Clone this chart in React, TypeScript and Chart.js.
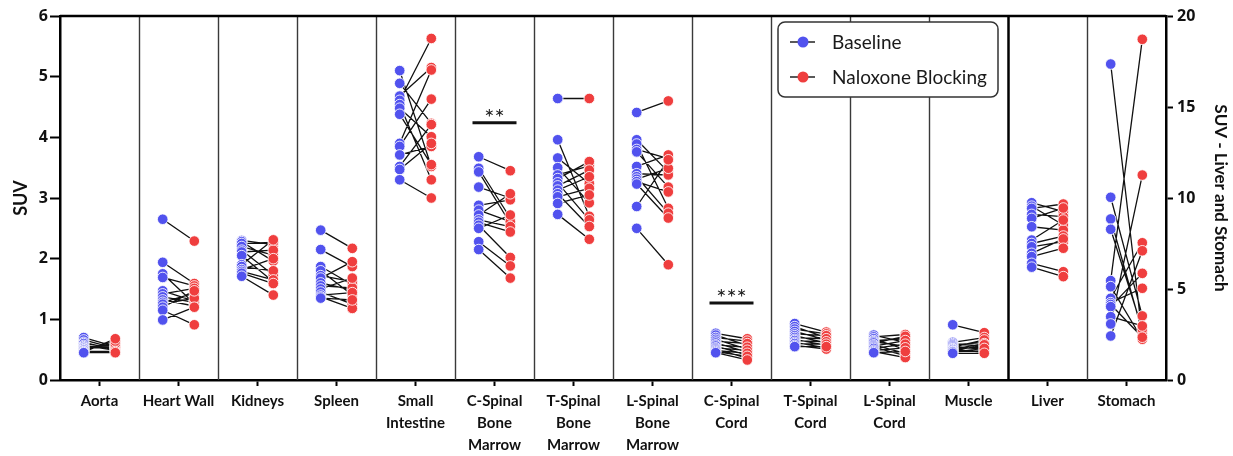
import React, { useEffect, useRef } from "react";
import { Chart, registerables } from "chart.js";
Chart.register(...registerables);

// ---------- data ----------
const categories: string[][] = [
  ["Aorta"], ["Heart Wall"], ["Kidneys"], ["Spleen"], ["Small", "Intestine"],
  ["C-Spinal", "Bone", "Marrow"], ["T-Spinal", "Bone", "Marrow"], ["L-Spinal", "Bone", "Marrow"],
  ["C-Spinal", "Cord"], ["T-Spinal", "Cord"], ["L-Spinal", "Cord"], ["Muscle"], ["Liver"], ["Stomach"],
];
const rightAxisCategories = ["Liver", "Stomach"];

const yTicks = [0, 1, 2, 3, 4, 5, 6];
const y2Ticks = [0, 5, 10, 15, 20];

const aortaBaseline = [0.70, 0.66, 0.62, 0.60, 0.57, 0.55, 0.53, 0.52, 0.50, 0.49, 0.47, 0.46, 0.45];
const aortaNaloxone = [0.55, 0.52, 0.50, 0.53, 0.49, 0.56, 0.54, 0.58, 0.60, 0.64, 0.47, 0.68, 0.45];
const heartWallBaseline = [2.65, 1.94, 1.75, 1.69, 1.47, 1.42, 1.37, 1.32, 1.28, 1.25, 1.20, 1.15, 0.99];
const heartWallNaloxone = [2.29, 1.59, 1.26, 1.55, 1.30, 1.51, 1.28, 1.22, 1.43, 1.35, 1.47, 0.91, 1.20];
const kidneysBaseline = [2.30, 2.28, 2.25, 2.20, 2.14, 2.11, 2.05, 1.90, 1.87, 1.82, 1.79, 1.76, 1.71];
const kidneysNaloxone = [2.23, 1.96, 2.27, 2.06, 1.73, 2.14, 1.62, 2.31, 1.80, 2.00, 1.65, 1.59, 1.40];
const spleenBaseline = [2.47, 2.15, 1.87, 1.80, 1.72, 1.68, 1.60, 1.55, 1.50, 1.45, 1.40, 1.37, 1.35];
const spleenNaloxone = [2.17, 1.87, 1.57, 1.40, 1.62, 1.95, 1.48, 1.52, 1.68, 1.25, 1.44, 1.18, 1.32];
const smallIntestineBaseline = [5.10, 4.89, 4.68, 4.61, 4.54, 4.48, 4.38, 3.90, 3.85, 3.71, 3.52, 3.47, 3.30];
const smallIntestineNaloxone = [3.52, 4.23, 5.15, 5.63, 3.30, 4.01, 3.55, 5.11, 4.63, 3.85, 4.21, 3.90, 3.00];
const cSpinalBoneBaseline = [3.68, 3.49, 3.43, 3.18, 2.88, 2.80, 2.72, 2.64, 2.60, 2.55, 2.50, 2.28, 2.15];
const cSpinalBoneNaloxone = [3.45, 2.67, 2.58, 3.00, 2.97, 2.61, 3.07, 2.53, 2.44, 2.02, 2.72, 1.88, 1.68];
const tSpinalBoneBaseline = [4.64, 3.96, 3.66, 3.50, 3.38, 3.32, 3.25, 3.20, 3.13, 3.07, 3.02, 2.91, 2.73];
const tSpinalBoneNaloxone = [4.64, 2.70, 3.24, 2.92, 3.53, 3.60, 2.64, 3.46, 3.35, 2.53, 3.16, 3.05, 2.32];
const lSpinalBoneBaseline = [4.41, 3.96, 3.89, 3.80, 3.76, 3.52, 3.40, 3.35, 3.31, 3.27, 3.23, 2.86, 2.50];
const lSpinalBoneNaloxone = [4.60, 3.43, 2.83, 3.65, 3.18, 3.71, 3.38, 2.75, 3.49, 3.10, 2.67, 3.63, 1.90];
const cSpinalCordBaseline = [0.77, 0.74, 0.70, 0.67, 0.64, 0.61, 0.58, 0.56, 0.53, 0.51, 0.49, 0.47, 0.45];
const cSpinalCordNaloxone = [0.68, 0.57, 0.64, 0.51, 0.60, 0.46, 0.54, 0.41, 0.49, 0.36, 0.44, 0.39, 0.33];
const tSpinalCordBaseline = [0.93, 0.88, 0.84, 0.80, 0.76, 0.73, 0.70, 0.67, 0.65, 0.62, 0.60, 0.57, 0.55];
const tSpinalCordNaloxone = [0.79, 0.70, 0.76, 0.66, 0.73, 0.61, 0.68, 0.57, 0.63, 0.53, 0.59, 0.51, 0.55];
const lSpinalCordBaseline = [0.74, 0.71, 0.68, 0.65, 0.63, 0.61, 0.58, 0.56, 0.54, 0.52, 0.49, 0.47, 0.45];
const lSpinalCordNaloxone = [0.62, 0.75, 0.50, 0.68, 0.56, 0.72, 0.44, 0.65, 0.40, 0.59, 0.53, 0.37, 0.47];
const muscleBaseline = [0.91, 0.62, 0.60, 0.58, 0.56, 0.54, 0.52, 0.51, 0.50, 0.48, 0.47, 0.46, 0.44];
const muscleNaloxone = [0.78, 0.70, 0.56, 0.62, 0.50, 0.66, 0.54, 0.60, 0.46, 0.58, 0.48, 0.52, 0.44];
const liverBaseline = [9.74, 9.55, 9.43, 9.10, 8.88, 8.42, 7.69, 7.50, 7.32, 6.96, 6.78, 6.41, 6.20];
const liverNaloxone = [9.25, 8.52, 9.67, 8.98, 9.45, 8.24, 8.79, 7.91, 7.60, 7.75, 7.24, 5.95, 5.68];
const stomachBaseline = [17.36, 10.04, 8.85, 8.28, 5.46, 5.13, 4.49, 4.25, 4.15, 4.03, 3.48, 3.08, 2.42];
const stomachNaloxone = [2.42, 3.52, 2.65, 2.80, 18.72, 2.24, 7.54, 5.04, 2.35, 5.86, 2.97, 11.26, 7.10];

const baselineSets = [
  aortaBaseline, heartWallBaseline, kidneysBaseline, spleenBaseline, smallIntestineBaseline,
  cSpinalBoneBaseline, tSpinalBoneBaseline, lSpinalBoneBaseline, cSpinalCordBaseline,
  tSpinalCordBaseline, lSpinalCordBaseline, muscleBaseline, liverBaseline, stomachBaseline,
];
const naloxoneSets = [
  aortaNaloxone, heartWallNaloxone, kidneysNaloxone, spleenNaloxone, smallIntestineNaloxone,
  cSpinalBoneNaloxone, tSpinalBoneNaloxone, lSpinalBoneNaloxone, cSpinalCordNaloxone,
  tSpinalCordNaloxone, lSpinalCordNaloxone, muscleNaloxone, liverNaloxone, stomachNaloxone,
];

const sigCategories = [5, 8];
const sigLevels = [4.24, 1.27];
const sigLabels = ["**", "***"];

const seriesNames = ["Baseline", "Naloxone Blocking"];
const BLUE = "#5152EE";
const RED = "#EF3E3E";
const seriesColors = [BLUE, RED];
const FONT = "Lato, 'Open Sans', sans-serif";
const NUM_FONT = "'Open Sans', Lato, sans-serif";

// ---------- build datasets ----------
const OFF = 0.2;
function buildSets(right: boolean) {
  const line: any[] = [];
  const blue: any[] = [];
  const red: any[] = [];
  categories.forEach((lab, i) => {
    const isRight = rightAxisCategories.includes(lab[0]);
    if (isRight !== right) return;
    const b = baselineSets[i];
    const r = naloxoneSets[i];
    b.forEach((bv, j) => {
      const rv = r[j];
      line.push({ x: i + 0.5 - OFF, y: bv }, { x: i + 0.5 + OFF, y: rv }, { x: i + 0.5 + OFF, y: null });
      blue.push({ x: i + 0.5 - OFF, y: bv });
      red.push({ x: i + 0.5 + OFF, y: rv });
    });
  });
  return { line, blue, red };
}

const overlayPlugin = {
  id: "overlay",
  beforeDatasetsDraw(chart: any) {
    const { ctx, chartArea: a, scales } = chart;
    const xs = scales.x;
    const firstRight = categories.findIndex((c) => rightAxisCategories.includes(c[0]));
    ctx.save();
    for (let k = 1; k < categories.length; k++) {
      const px = Math.round(xs.getPixelForValue(k)) + 0.5;
      ctx.beginPath();
      ctx.lineWidth = k === firstRight ? 2.5 : 1.4;
      ctx.strokeStyle = k === firstRight ? "#000" : "#3a3a3a";
      ctx.moveTo(px, a.top);
      ctx.lineTo(px, a.bottom);
      ctx.stroke();
    }
    ctx.beginPath();
    ctx.lineWidth = 2.5;
    ctx.strokeStyle = "#000";
    ctx.moveTo(a.left, a.top);
    ctx.lineTo(a.right, a.top);
    ctx.stroke();
    ctx.restore();
  },
  afterDraw(chart: any) {
    const { ctx, scales } = chart;
    ctx.save();
    // significance marks
    sigCategories.forEach((ci, k) => {
      const cx = scales.x.getPixelForValue(ci + 0.5);
      const py = scales.y.getPixelForValue(sigLevels[k]);
      ctx.beginPath();
      ctx.lineWidth = 3;
      ctx.strokeStyle = "#111";
      ctx.moveTo(cx - 22, py);
      ctx.lineTo(cx + 22, py);
      ctx.stroke();
      ctx.fillStyle = "#222";
      ctx.font = `24px ${FONT}`;
      ctx.textAlign = "center";
      ctx.textBaseline = "alphabetic";
      ctx.fillText(sigLabels[k], cx, py + 3);
    });
    // legend box
    const bx = 778, by = 22, bw = 220, bh = 75, rr = 7;
    ctx.beginPath();
    ctx.moveTo(bx + rr, by);
    ctx.arcTo(bx + bw, by, bx + bw, by + bh, rr);
    ctx.arcTo(bx + bw, by + bh, bx, by + bh, rr);
    ctx.arcTo(bx, by + bh, bx, by, rr);
    ctx.arcTo(bx, by, bx + bw, by, rr);
    ctx.closePath();
    ctx.fillStyle = "#fff";
    ctx.fill();
    ctx.lineWidth = 1.5;
    ctx.strokeStyle = "#333";
    ctx.stroke();
    seriesNames.forEach((name, k) => {
      const cy = 42 + k * 35;
      ctx.beginPath();
      ctx.lineWidth = 1.5;
      ctx.strokeStyle = "#222";
      ctx.moveTo(790, cy);
      ctx.lineTo(815, cy);
      ctx.stroke();
      ctx.beginPath();
      ctx.arc(803, cy, 5.5, 0, Math.PI * 2);
      ctx.fillStyle = seriesColors[k];
      ctx.fill();
      ctx.fillStyle = "#1a1a1a";
      ctx.font = `19px ${FONT}`;
      ctx.textAlign = "left";
      ctx.textBaseline = "middle";
      ctx.fillText(name, 832, cy + 1);
    });
    ctx.restore();
  },
};

export default function App() {
  const ref = useRef<HTMLCanvasElement | null>(null);
  useEffect(() => {
    if (!ref.current) return;
    const left = buildSets(false);
    const right = buildSets(true);
    const pointStyle = (color: string) => ({
      pointRadius: 5.3,
      pointBackgroundColor: color,
      pointBorderColor: "rgba(255,255,255,0.85)",
      pointBorderWidth: 1,
      showLine: false,
    });
    const lineStyle = {
      type: "line" as const,
      showLine: true,
      spanGaps: false,
      borderColor: "#111",
      borderWidth: 1.3,
      pointRadius: 0,
      fill: false,
      order: 2,
    };
    const chart = new Chart(ref.current, {
      type: "scatter",
      data: {
        datasets: [
          { label: "lines-left", data: left.line, yAxisID: "y", ...lineStyle } as any,
          { label: "lines-right", data: right.line, yAxisID: "y2", ...lineStyle } as any,
          { label: seriesNames[0], data: left.blue, yAxisID: "y", order: 1, ...pointStyle(BLUE) },
          { label: seriesNames[1], data: left.red, yAxisID: "y", order: 1, ...pointStyle(RED) },
          { label: seriesNames[0] + " (right)", data: right.blue, yAxisID: "y2", order: 1, ...pointStyle(BLUE) },
          { label: seriesNames[1] + " (right)", data: right.red, yAxisID: "y2", order: 1, ...pointStyle(RED) },
        ],
      },
      options: {
        animation: false,
        responsive: false,
        maintainAspectRatio: false,
        layout: { padding: { top: 16, left: 0, right: 0, bottom: 0 } },
        plugins: { legend: { display: false }, tooltip: { enabled: false } },
        scales: {
          x: {
            type: "linear",
            min: 0,
            max: categories.length,
            afterBuildTicks: (s: any) => {
              s.ticks = categories.map((_, i) => ({ value: i + 0.5 }));
            },
            afterFit: (s: any) => {
              s.height = 76;
            },
            ticks: {
              autoSkip: false,
              maxRotation: 0,
              padding: 4,
              color: "#111",
              font: { family: FONT, size: 15, weight: "bold", lineHeight: 1.47 },
              callback: (_v: any, idx: number) => categories[idx],
            },
            grid: { drawOnChartArea: false, tickLength: 6, tickWidth: 2, tickColor: "#000" },
            border: { display: true, color: "#000", width: 2.5 },
          },
          y: {
            position: "left",
            min: 0,
            max: 6,
            afterBuildTicks: (s: any) => {
              s.ticks = yTicks.map((v) => ({ value: v }));
            },
            afterFit: (s: any) => {
              s.width = 60;
            },
            ticks: { padding: 2, color: "#111", font: { family: NUM_FONT, size: 16, weight: "bold" } },
            grid: { drawOnChartArea: false, tickLength: 10, tickWidth: 2, tickColor: "#000" },
            border: { display: true, color: "#000", width: 2.5 },
            title: {
              display: true,
              text: "SUV",
              color: "#111",
              padding: { top: 10, bottom: 0 },
              font: { family: FONT, size: 18, weight: "bold" },
            },
          },
          y2: {
            position: "right",
            min: 0,
            max: 20,
            afterBuildTicks: (s: any) => {
              s.ticks = y2Ticks.map((v) => ({ value: v }));
            },
            afterFit: (s: any) => {
              s.width = 67;
            },
            ticks: { padding: 4, color: "#111", font: { family: NUM_FONT, size: 16, weight: "bold" } },
            grid: { drawOnChartArea: false, tickLength: 7, tickWidth: 2, tickColor: "#000" },
            border: { display: true, color: "#000", width: 2.5 },
            title: {
              display: true,
              text: "SUV - Liver and Stomach",
              color: "#111",
              padding: { top: 2, bottom: 0 },
              font: { family: FONT, size: 17, weight: "bold" },
            },
          },
        },
      },
      plugins: [overlayPlugin],
    });
    return () => chart.destroy();
  }, []);
  return (
    <div style={{ position: "absolute", left: 0, top: 0, width: 1233, height: 456, background: "#fff" }}>
      <canvas ref={ref} width={1233} height={456} style={{ width: 1233, height: 456, display: "block" }} />
    </div>
  );
}
